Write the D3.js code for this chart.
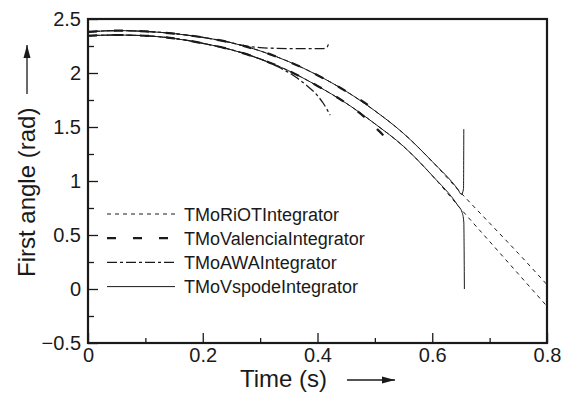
<!DOCTYPE html>
<html>
<head>
<meta charset="utf-8">
<script src="https://cdn.jsdelivr.net/npm/d3@7"></script>
<style>
  body { margin: 0; background: #fff; }
  svg { display: block; font-family: "Liberation Sans", Arial, Helvetica, sans-serif; }
</style>
</head>
<body>
<div id="chart"></div>
<script>
// ticks
const xTicksMajor = [0, 0.2, 0.4, 0.6, 0.8];
const xTicksMinor = [0.1, 0.3, 0.5, 0.7];
const yTicksMajor = [-0.5, 0, 0.5, 1, 1.5, 2, 2.5];
const yTicksMinor = [-0.25, 0.25, 0.75, 1.25, 1.75, 2.25];

// TMoRiOTIntegrator, two runs, both reach 0.8 s
const riotTime  = [0, 0.05, 0.1, 0.15, 0.2, 0.25, 0.3, 0.35, 0.4, 0.45, 0.5, 0.55, 0.6, 0.65, 0.7, 0.75, 0.8];
const riotUpper = [2.38, 2.393, 2.385, 2.365, 2.33, 2.28, 2.205, 2.105, 1.98, 1.83, 1.65, 1.44, 1.18, 0.89, 0.61, 0.33, 0.04];
const riotLower = [2.345, 2.352, 2.345, 2.32, 2.275, 2.215, 2.13, 2.02, 1.88, 1.72, 1.53, 1.32, 1.05, 0.74, 0.44, 0.14, -0.16];

// TMoValenciaIntegrator
const valenciaUpperTime = [0, 0.05, 0.1, 0.15, 0.2, 0.25, 0.3, 0.35, 0.4, 0.45, 0.5, 0.505];
const valenciaUpper     = [2.38, 2.393, 2.385, 2.365, 2.33, 2.28, 2.205, 2.105, 1.98, 1.83, 1.65, 1.625];
const valenciaLowerTime = [0, 0.05, 0.1, 0.15, 0.2, 0.25, 0.3, 0.35, 0.4, 0.45, 0.48, 0.5, 0.515, 0.527];
const valenciaLower     = [2.345, 2.352, 2.345, 2.32, 2.275, 2.215, 2.13, 2.02, 1.88, 1.72, 1.6, 1.5, 1.42, 1.33];

// TMoAWAIntegrator
const awaUpperTime = [0, 0.05, 0.1, 0.15, 0.2, 0.25, 0.27, 0.3, 0.33, 0.36, 0.39, 0.41, 0.416, 0.419];
const awaUpper     = [2.38, 2.393, 2.385, 2.365, 2.33, 2.28, 2.255, 2.235, 2.228, 2.225, 2.225, 2.226, 2.235, 2.265];
const awaLowerTime = [0, 0.05, 0.1, 0.15, 0.2, 0.25, 0.3, 0.33, 0.36, 0.38, 0.4, 0.41, 0.422];
const awaLower     = [2.345, 2.352, 2.345, 2.32, 2.275, 2.215, 2.13, 2.06, 1.97, 1.89, 1.79, 1.72, 1.61];

// TMoVspodeIntegrator (breaks down near 0.655 s)
const vspodeUpperTime = [0, 0.05, 0.1, 0.15, 0.2, 0.25, 0.3, 0.35, 0.4, 0.45, 0.5, 0.55, 0.6, 0.645, 0.651, 0.6545, 0.655];
const vspodeUpper     = [2.38, 2.393, 2.385, 2.365, 2.33, 2.28, 2.205, 2.105, 1.98, 1.83, 1.65, 1.44, 1.18, 0.92, 0.875, 0.93, 1.48];
const vspodeLowerTime = [0, 0.05, 0.1, 0.15, 0.2, 0.25, 0.3, 0.35, 0.4, 0.45, 0.5, 0.55, 0.6, 0.645, 0.652, 0.655, 0.6555, 0.656];
const vspodeLower     = [2.345, 2.352, 2.345, 2.32, 2.275, 2.215, 2.13, 2.02, 1.88, 1.72, 1.53, 1.32, 1.05, 0.77, 0.71, 0.62, 0.4, 0.0];

const legendNames = ["TMoRiOTIntegrator", "TMoValenciaIntegrator", "TMoAWAIntegrator", "TMoVspodeIntegrator"];

const width = 568, height = 394;
const margin = { top: 19, right: 21, bottom: 51, left: 88 };
const ink = "#1a1a1a";

// line styles, one per integrator (same order as legend)
const styles = [
  { dash: "4,4", w: 1 },
  { dash: "9,17", w: 2.2 },
  { dash: "10,3,3,3", w: 1.3 },
  { dash: null, w: 1 }
];

const zip = (ts, vs) => ts.map((t, i) => [t, vs[i]]);
const series = [
  { s: 0, pts: zip(riotTime, riotUpper) },
  { s: 0, pts: zip(riotTime, riotLower) },
  { s: 2, pts: zip(awaUpperTime, awaUpper) },
  { s: 2, pts: zip(awaLowerTime, awaLower) },
  { s: 1, pts: zip(valenciaUpperTime, valenciaUpper) },
  { s: 1, pts: zip(valenciaLowerTime, valenciaLower) },
  { s: 3, pts: zip(vspodeUpperTime, vspodeUpper) },
  { s: 3, pts: zip(vspodeLowerTime, vspodeLower) }
];

const svg = d3.select("#chart").append("svg")
  .attr("width", width)
  .attr("height", height);

const x = d3.scaleLinear().domain([0, 0.8]).range([margin.left, width - margin.right]);
const y = d3.scaleLinear().domain([-0.5, 2.5]).range([height - margin.bottom, margin.top]);

// curves
const line = d3.line()
  .x(d => x(d[0]))
  .y(d => y(d[1]))
  .curve(d3.curveMonotoneX);

const plot = svg.append("g");
plot.selectAll("path")
  .data(series)
  .enter().append("path")
    .attr("d", d => line(d.pts))
    .attr("fill", "none")
    .attr("stroke", ink)
    .attr("stroke-width", d => styles[d.s].w)
    .attr("stroke-dasharray", d => styles[d.s].dash);

// axes, ticks pointing inwards
const fmt = d => d === 0 ? "0" : d3.format("")(d);

svg.append("g")
  .attr("transform", `translate(0,${y(-0.5)})`)
  .call(d3.axisBottom(x).tickValues(xTicksMajor).tickSize(-10).tickPadding(5).tickFormat(fmt));
svg.append("g")
  .attr("transform", `translate(0,${y(-0.5)})`)
  .call(d3.axisBottom(x).tickValues(xTicksMinor).tickSize(-5).tickFormat(""));

svg.append("g")
  .attr("transform", `translate(${x(0)},0)`)
  .call(d3.axisLeft(y).tickValues(yTicksMajor).tickSize(-10).tickPadding(7).tickFormat(fmt));
svg.append("g")
  .attr("transform", `translate(${x(0)},0)`)
  .call(d3.axisLeft(y).tickValues(yTicksMinor).tickSize(-6).tickFormat(""));

svg.selectAll(".domain").remove();
svg.selectAll(".tick line").attr("stroke", ink).attr("stroke-width", 1.3);
svg.selectAll(".tick text").attr("fill", ink).style("font-size", "20px");

// frame
svg.append("rect")
  .attr("x", x(0)).attr("y", y(2.5))
  .attr("width", x(0.8) - x(0)).attr("height", y(-0.5) - y(2.5))
  .attr("fill", "none")
  .attr("stroke", ink)
  .attr("stroke-width", 2.2);

// axis titles with arrows
const arrow = (x1, y1, x2, y2) => {
  const g = svg.append("g");
  g.append("line")
    .attr("x1", x1).attr("y1", y1).attr("x2", x2).attr("y2", y2)
    .attr("stroke", ink).attr("stroke-width", 1.3);
  const a = Math.atan2(y2 - y1, x2 - x1), len = 13, hw = 3.5;
  const bx = x2 - len * Math.cos(a), by = y2 - len * Math.sin(a);
  g.append("path")
    .attr("d", `M${x2},${y2}L${bx - hw * Math.sin(a)},${by + hw * Math.cos(a)}L${bx + hw * Math.sin(a)},${by - hw * Math.cos(a)}Z`)
    .attr("fill", ink);
};

svg.append("text")
  .attr("x", 240).attr("y", 387)
  .attr("fill", ink)
  .style("font-size", "24px")
  .text("Time (s)");
arrow(347, 380, 395, 380);

svg.append("text")
  .attr("transform", "translate(35,277) rotate(-90)")
  .attr("fill", ink)
  .style("font-size", "24px")
  .text("First angle (rad)");
arrow(27, 94, 27, 45);

// legend
const legend = svg.append("g");
legendNames.forEach((name, i) => {
  const ly = 214 + i * 24.2;
  legend.append("line")
    .attr("x1", 107).attr("x2", 175)
    .attr("y1", ly).attr("y2", ly)
    .attr("stroke", ink)
    .attr("stroke-width", styles[i].w)
    .attr("stroke-dasharray", styles[i].dash);
  legend.append("text")
    .attr("x", 184).attr("y", ly + 6.5)
    .attr("fill", ink)
    .style("font-size", "18px")
    .text(name);
});
</script>
</body>
</html>
